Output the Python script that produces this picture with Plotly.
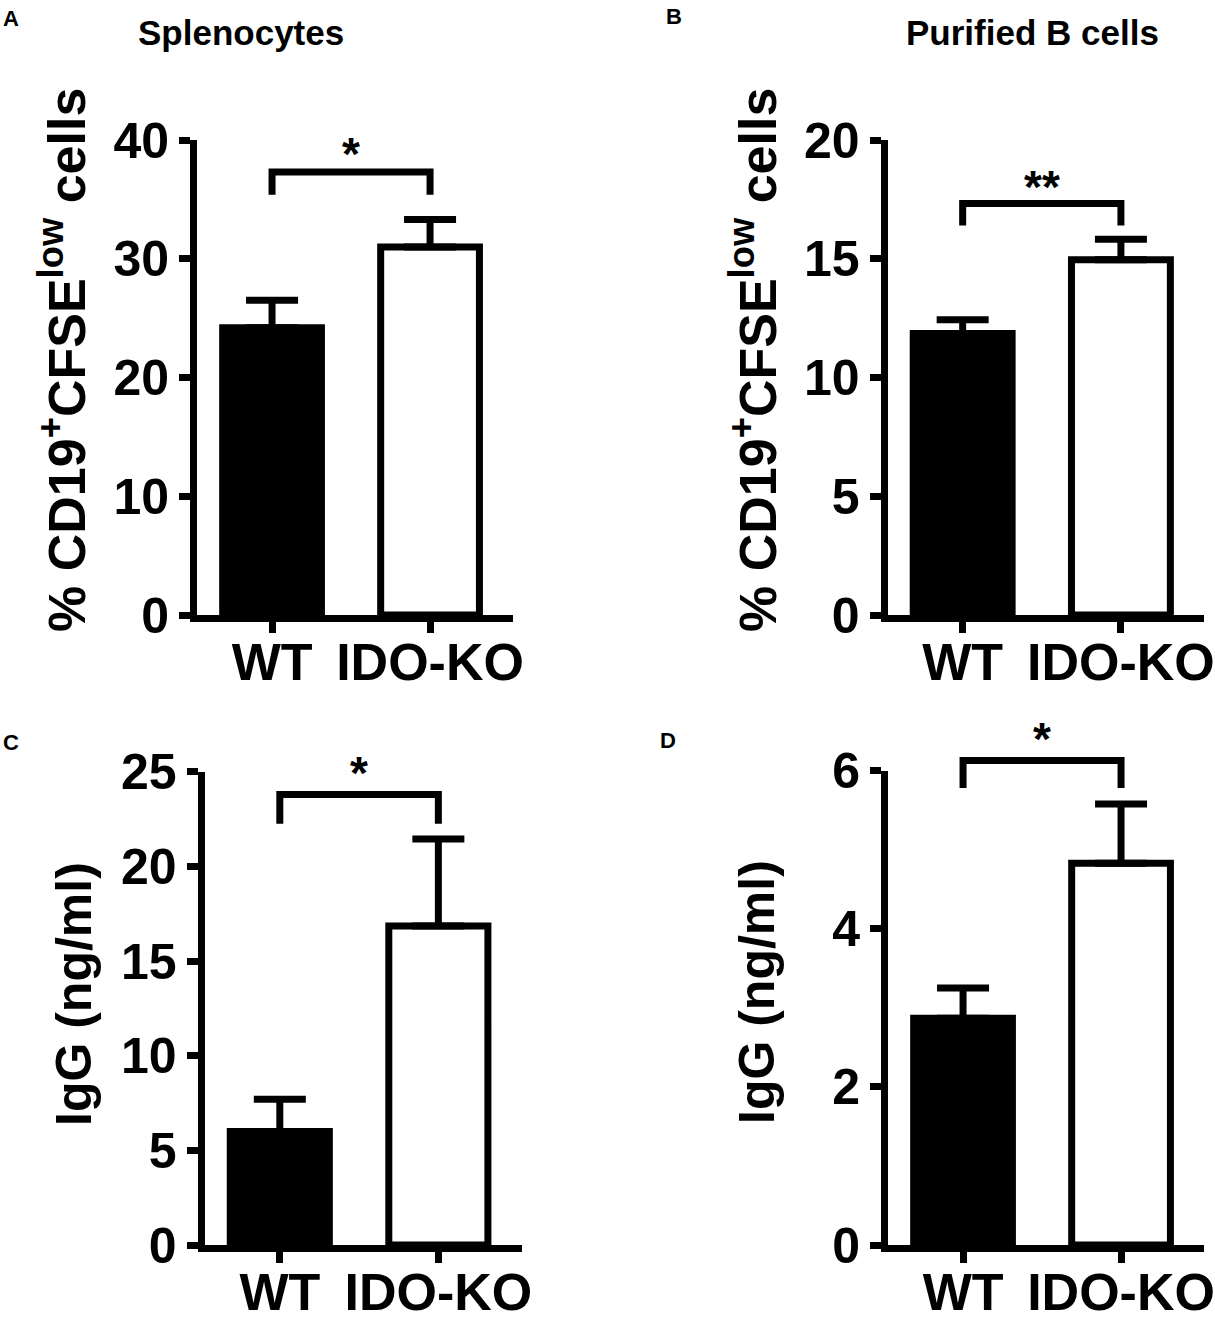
import plotly.graph_objects as go

W, H = 1215, 1318
FONT = "Liberation Sans, Arial, sans-serif"

groups = ["WT", "IDO-KO"]
bar_colors = ["black", "white"]

# A: splenocytes, % CD19+CFSElow
a_mean = [24.2, 31.0]
a_sem = [2.3, 2.3]
# B: purified B cells, % CD19+CFSElow
b_mean = [11.85, 14.96]
b_sem = [0.58, 0.86]
# C: IgG from splenocytes
c_mean = [6.0, 16.85]
c_sem = [1.7, 4.6]
# D: IgG from purified B cells
d_mean = [2.87, 4.83]
d_sem = [0.38, 0.75]

# significance: leg bottom, bracket level, star level, label
sig_a = (35.4, 37.3, 39.2, "*")
sig_b = (16.4, 17.33, 18.25, "**")
sig_c = (22.25, 23.8, 25.2, "*")
sig_d = (5.78, 6.13, 6.47, "*")

y_max = [40, 20, 25, 6]
y_dtick = [10, 5, 5, 2]

cd19_title = "% CD19<sup>+</sup>CFSE<sup>low</sup> cells"
igg_title = "IgG (ng/ml)"

# pixel boxes: left, right, top, bottom of each plot area
boxes = [
    (197, 513, 140, 615),
    (887.5, 1204, 140, 615),
    (204.5, 521.6, 771.7, 1245),
    (888, 1204, 770.7, 1245),
]
EXTRA = 80  # room above the axes for the brackets

# y-axis title: centre (x, y) in px and font size
ytitle_pos = [(63, 360, 52), (754, 360, 52), (74, 994, 50), (757, 992, 50)]

panels = [
    (a_mean, a_sem, sig_a, cd19_title),
    (b_mean, b_sem, sig_b, cd19_title),
    (c_mean, c_sem, sig_c, igg_title),
    (d_mean, d_sem, sig_d, igg_title),
]

fig = go.Figure()
annotations = []

for i, ((mean, sem, sig, ytitle), (x0, x1, top, bot)) in enumerate(zip(panels, boxes), start=1):
    xa, ya, yb = f"x{i}", f"y{i}", f"y{i + 4}"
    fig.add_trace(go.Bar(
        x=groups, y=mean, xaxis=xa, yaxis=ya,
        width=0.625,
        marker=dict(color=bar_colors, line=dict(color="black", width=7)),
        error_y=dict(type="data", array=sem, arrayminus=[0, 0], symmetric=False,
                     color="black", thickness=7, width=26),
        showlegend=False, hoverinfo="skip",
    ))
    leg, level, star, label = sig
    fig.add_trace(go.Scatter(
        x=[groups[0], groups[0], groups[1], groups[1]],
        y=[leg, level, level, leg],
        xaxis=xa, yaxis=yb, mode="lines",
        line=dict(color="black", width=7),
        showlegend=False, hoverinfo="skip",
    ))
    annotations.append(dict(
        x=0.5, y=star, xref=xa, yref=yb, text=label, showarrow=False,
        yshift=-5, font=dict(family=FONT, size=46, color="black", weight="bold"),
    ))

    h = bot - top
    ymax = y_max[i - 1]
    fig.layout[f"xaxis{i}"] = dict(
        domain=[x0 / W, x1 / W], anchor=ya, range=[-0.475, 1.525],
        type="category", categoryorder="array", categoryarray=groups,
        showline=True, linewidth=7, linecolor="black",
        ticks="outside", ticklen=11, tickwidth=7, tickcolor="black",
        ticklabelstandoff=-15,
        tickfont=dict(family=FONT, size=52, color="black", weight="bold"),
        showgrid=False, zeroline=False, fixedrange=True, automargin=False,
    )
    fig.layout[f"yaxis{i}"] = dict(
        domain=[1 - bot / H, 1 - top / H], anchor=xa, range=[0, ymax],
        tick0=0, dtick=y_dtick[i - 1],
        showline=True, linewidth=7, linecolor="black",
        ticks="outside", ticklen=11, tickwidth=7, tickcolor="black",
        tickfont=dict(family=FONT, size=50, color="black", weight="bold"),
        showgrid=False, zeroline=False, fixedrange=True, automargin=False,
    )
    fig.layout[f"yaxis{i + 4}"] = dict(
        domain=[1 - bot / H, 1 - (top - EXTRA) / H], anchor=xa,
        range=[0, ymax * (h + EXTRA) / h], visible=False, fixedrange=True,
        automargin=False,
    )

    # rotated y-axis title
    tx, ty, ts = ytitle_pos[i - 1]
    annotations.append(dict(
        x=tx / W, y=1 - ty / H, xref="paper", yref="paper",
        text=ytitle, textangle=-90, showarrow=False, xanchor="center", yanchor="middle",
        font=dict(family=FONT, size=ts, color="black", weight="bold"),
    ))

# panel titles and letters
for text, x, y, size in [
    ("Splenocytes", 241, 33, 35),
    ("Purified B cells", 1032, 33, 35),
]:
    annotations.append(dict(x=x / W, y=1 - y / H, xref="paper", yref="paper", text=text,
                            showarrow=False, xanchor="center", yanchor="middle",
                            font=dict(family=FONT, size=size, color="black", weight="bold")))
for text, x, y in [("A", 11, 19), ("B", 674, 17), ("C", 11, 742), ("D", 668, 740)]:
    annotations.append(dict(x=x / W, y=1 - y / H, xref="paper", yref="paper", text=text,
                            showarrow=False, xanchor="center", yanchor="middle",
                            font=dict(family=FONT, size=22, color="black", weight="bold")))

fig.update_layout(
    template="none",
    width=W, height=H,
    margin=dict(l=0, r=0, t=0, b=0, pad=0),
    paper_bgcolor="white", plot_bgcolor="rgba(0,0,0,0)",
    annotations=annotations,
    showlegend=False,
)

fig.write_html("out.html", config={"displayModeBar": False},
               post_script="document.body.style.margin = '0';")
